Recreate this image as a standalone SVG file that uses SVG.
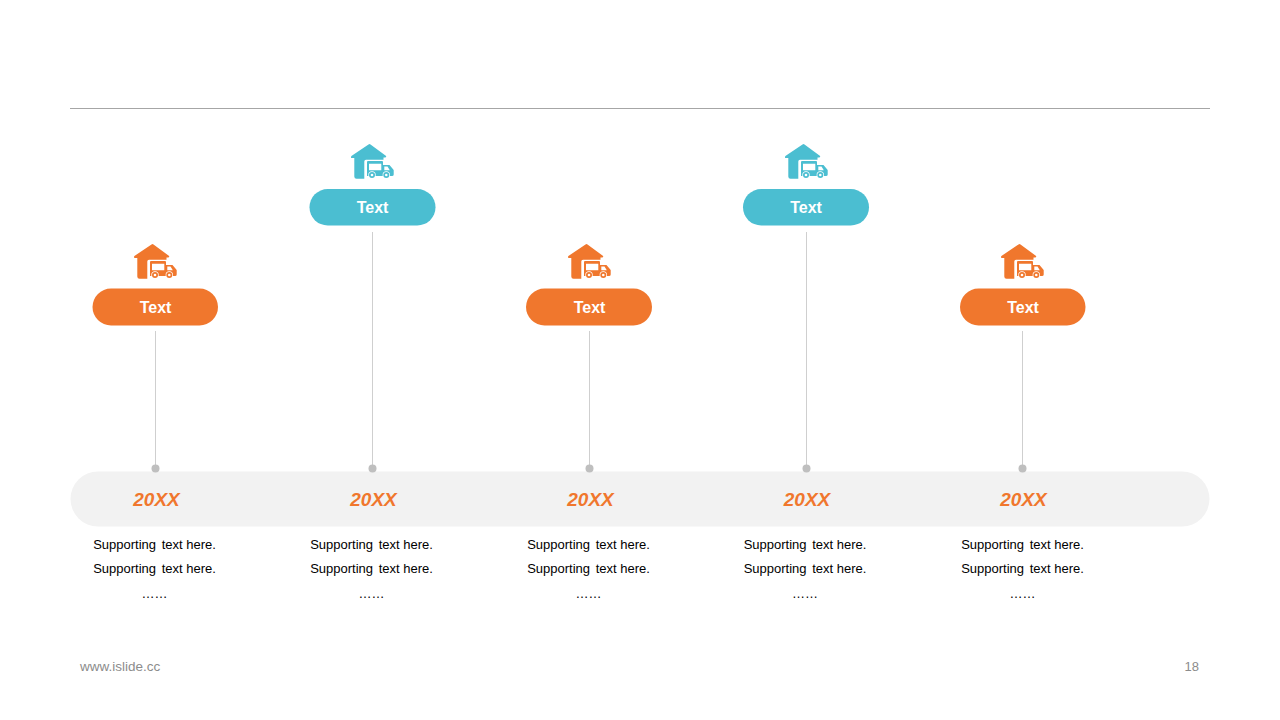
<svg xmlns="http://www.w3.org/2000/svg" width="1280" height="720" viewBox="0 0 1280 720">
<style>
.pill-o{fill:#f0772d}.pill-b{fill:#4bbed1}
.lbl{font:bold 16px "Liberation Sans",Arial,sans-serif;fill:#fff;text-anchor:middle}
.yr{font:italic bold 19px "Liberation Sans",Arial,sans-serif;fill:#f0772d;text-anchor:middle}
.sup{font:13px "Liberation Sans",Arial,sans-serif;fill:#000;text-anchor:middle}
.foot{font:13.500px "Liberation Sans",Arial,sans-serif;fill:#8c8c8c}
.conn{stroke:#cfcfcf;stroke-width:1;fill:none}
.dot{fill:#bfbfbf}
.w{fill:#fff}
</style>
<defs>
<symbol id="icon" viewBox="0 0 46 38" width="46" height="38" overflow="visible">
<path fill="currentColor" d="M17.500 .4Q18.500 -.2 19.500 .4L34.800 11.800Q36 13.500 34 13.500H32.500V15.800H15Q13.300 15.800 13.300 17.500V34.700H5.500Q3.300 34.700 3.300 32.500V14H1Q-.8 14 .4 12Z"/>
<path fill="currentColor" fill-rule="evenodd" d="M17 17H31Q32 17 32 18V21H38.500L42.700 26V30.500Q42.700 32 41 32H16V18Q16 17 17 17ZM18 19.800V26.300H30.300V19.800ZM33.300 22.500V26.300H38.800L36.500 22.500Z"/>
<circle class="w" cx="21" cy="31" r="3.700"/>
<circle class="w" cx="35.300" cy="31" r="3.700"/>
<circle fill="currentColor" cx="21" cy="31" r="3"/>
<circle fill="currentColor" cx="35.300" cy="31" r="3"/>
<circle class="w" cx="21" cy="31" r="1.300"/>
<circle class="w" cx="35.300" cy="31" r="1.300"/>
</symbol>
</defs>
<rect width="1280" height="720" fill="#fff"/>
<line x1="70" y1="108.500" x2="1210" y2="108.500" stroke="#a6a6a6" stroke-width="1"/>
<rect id="band" x="70.500" y="471.500" width="1139" height="55" rx="27.500" fill="#f2f2f2"/>
<g id="connectors">
<line class="conn" x1="155.500" y1="331" x2="155.500" y2="468"/>
<line class="conn" x1="372.500" y1="232" x2="372.500" y2="468"/>
<line class="conn" x1="589.500" y1="331" x2="589.500" y2="468"/>
<line class="conn" x1="806.500" y1="232" x2="806.500" y2="468"/>
<line class="conn" x1="1022.500" y1="331" x2="1022.500" y2="468"/>
<circle class="dot" cx="155.500" cy="468.500" r="4"/>
<circle class="dot" cx="372.500" cy="468.500" r="4"/>
<circle class="dot" cx="589.500" cy="468.500" r="4"/>
<circle class="dot" cx="806.500" cy="468.500" r="4"/>
<circle class="dot" cx="1022.500" cy="468.500" r="4"/>
</g>
<g id="node1">
<use href="#icon" x="134" y="244" color="#f0772d"/>
<rect class="pill-o" x="92.500" y="288.500" width="125.500" height="37" rx="18.500"/>
<text class="lbl" x="155.500" y="312.500">Text</text>
<text class="yr" x="156.500" y="506">20XX</text>
<text class="sup" x="154.500" y="549">Supporting <tspan dx="2">text here.</tspan></text>
<text class="sup" x="154.500" y="573">Supporting <tspan dx="2">text here.</tspan></text>
<text class="sup" x="154.500" y="598">……</text>
</g>
<g id="node2">
<use href="#icon" x="351" y="144" color="#4bbed1"/>
<rect class="pill-b" x="309.500" y="189" width="126" height="36.500" rx="18.250"/>
<text class="lbl" x="372.500" y="213">Text</text>
<text class="yr" x="373.500" y="506">20XX</text>
<text class="sup" x="371.500" y="549">Supporting <tspan dx="2">text here.</tspan></text>
<text class="sup" x="371.500" y="573">Supporting <tspan dx="2">text here.</tspan></text>
<text class="sup" x="371.500" y="598">……</text>
</g>
<g id="node3">
<use href="#icon" x="568" y="244" color="#f0772d"/>
<rect class="pill-o" x="526" y="288.500" width="126" height="37" rx="18.500"/>
<text class="lbl" x="589.500" y="312.500">Text</text>
<text class="yr" x="590.500" y="506">20XX</text>
<text class="sup" x="588.500" y="549">Supporting <tspan dx="2">text here.</tspan></text>
<text class="sup" x="588.500" y="573">Supporting <tspan dx="2">text here.</tspan></text>
<text class="sup" x="588.500" y="598">……</text>
</g>
<g id="node4">
<use href="#icon" x="785" y="144" color="#4bbed1"/>
<rect class="pill-b" x="743" y="189" width="126" height="36.500" rx="18.250"/>
<text class="lbl" x="806" y="213">Text</text>
<text class="yr" x="807" y="506">20XX</text>
<text class="sup" x="805" y="549">Supporting <tspan dx="2">text here.</tspan></text>
<text class="sup" x="805" y="573">Supporting <tspan dx="2">text here.</tspan></text>
<text class="sup" x="805" y="598">……</text>
</g>
<g id="node5">
<use href="#icon" x="1001" y="244" color="#f0772d"/>
<rect class="pill-o" x="960" y="288.500" width="125.500" height="37" rx="18.500"/>
<text class="lbl" x="1023" y="312.500">Text</text>
<text class="yr" x="1023.500" y="506">20XX</text>
<text class="sup" x="1022.500" y="549">Supporting <tspan dx="2">text here.</tspan></text>
<text class="sup" x="1022.500" y="573">Supporting <tspan dx="2">text here.</tspan></text>
<text class="sup" x="1022.500" y="598">……</text>
</g>
<text class="foot" x="80" y="670.500">www.islide.cc</text>
<text class="foot" x="1199" y="670.500" text-anchor="end" style="font-size:13px">18</text>
</svg>
